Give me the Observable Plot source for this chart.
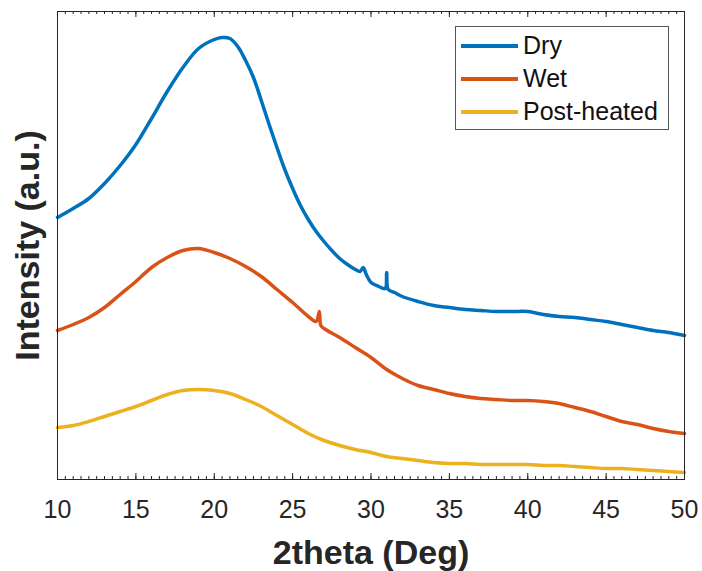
<!DOCTYPE html>
<html>
<head>
<meta charset="utf-8">
<script src="https://cdn.jsdelivr.net/npm/d3@7"></script>
<script src="https://cdn.jsdelivr.net/npm/@observablehq/plot@0.6"></script>
<style>
  html, body { margin: 0; padding: 0; background: #fff; }
  #wrap { position: relative; width: 702px; height: 571px; font-family: "Liberation Sans", Arial, sans-serif; }
  #legend { position: absolute; left: 455px; top: 26px; width: 212px; height: 100px; border: 1px solid #555; background: #fff; padding-top: 2px; box-sizing: content-box; }
  .row { display: flex; align-items: center; height: 33px; }
  .sw { width: 57px; height: 4px; margin-left: 5px; margin-right: 5px; }
  .lab { font-size: 25px; color: #111; line-height: 1; }
</style>
</head>
<body>
<div id="wrap"></div>
<script>
const seriesNames = ["Dry", "Wet", "Post-heated"];
const seriesColors = ["#0072BD", "#D95319", "#EDB120"];

const dryX = [10, 11, 12, 13, 14, 15, 16, 17, 18, 19, 20, 20.5, 21, 21.5, 22, 22.5, 23, 23.5, 24, 24.5, 25, 25.5, 26, 26.5, 27, 27.5, 28, 28.5, 29, 29.3, 29.5, 29.7, 30, 30.5, 30.9, 31, 31.1, 31.5, 32, 33, 34, 35, 36, 37, 38, 39, 40, 41, 42, 43, 44, 45, 46, 47, 48, 49, 50];
const dryY = [262, 271, 281, 296, 314, 335, 361, 388, 412, 431, 440, 442, 441, 433, 419, 402, 379, 355, 332, 310, 291, 274, 260, 248, 238, 229, 221, 215, 210, 208, 212, 205, 197, 193, 191, 207, 190, 187, 183, 178, 174, 172, 170, 169, 168, 168, 168, 165, 163, 162, 160, 158, 155, 152, 149, 147, 144];

const wetX = [10, 11, 12, 13, 14, 15, 16, 17, 18, 19, 20, 21, 22, 23, 24, 25, 26, 26.5, 26.7, 26.8, 27, 28, 29, 30, 31, 32, 33, 34, 35, 36, 37, 38, 39, 40, 41, 42, 43, 44, 45, 46, 47, 48, 49, 50];
const wetY = [149, 155, 162, 172, 185, 198, 212, 222, 229, 231, 227, 221, 213, 203, 190, 177, 163, 158, 168, 154, 151, 142, 132, 122, 110, 101, 94, 90, 86, 83, 81, 80, 79, 79, 78, 76, 72, 68, 63, 58, 55, 51, 48, 46];

const postX = [10, 11, 12, 13, 14, 15, 16, 17, 18, 19, 20, 21, 22, 23, 24, 25, 26, 27, 28, 29, 30, 31, 32, 33, 34, 35, 36, 37, 38, 39, 40, 41, 42, 43, 44, 45, 46, 47, 48, 49, 50];
const postY = [52, 54, 58, 63, 68, 73, 79, 85, 89, 90, 89, 86, 80, 73, 64, 55, 46, 39, 34, 30, 27, 23, 21, 19, 17, 16, 16, 15, 15, 15, 15, 14, 14, 13, 12, 11, 11, 10, 9, 8, 7];

const xTicks = [10, 15, 20, 25, 30, 35, 40, 45, 50];
const xMinorTicks = d3.range(10, 50.001, 0.5);
const xLabel = "2theta (Deg)";
const yLabel = "Intensity (a.u.)";

const toRows = (xs, ys, name) => xs.map((x, i) => ({x, y: ys[i], series: name}));
const rows = [
  ...toRows(dryX, dryY, "Dry"),
  ...toRows(wetX, wetY, "Wet"),
  ...toRows(postX, postY, "Post-heated")
];

const W = 702, H = 571;
const mT = 11, mB = 92, mL = 57, mR = 18;
const frameH = H - mT - mB;
const axisColor = "#262626";

const plot = Plot.plot({
  width: W,
  height: H,
  marginTop: mT,
  marginBottom: mB,
  marginLeft: mL,
  marginRight: mR,
  style: {fontFamily: "'Liberation Sans', Arial, sans-serif", fontSize: "25px", color: axisColor, background: "#fff", overflow: "visible"},
  x: {domain: [10, 50]},
  y: {domain: [0, 468]},
  color: {domain: seriesNames, range: seriesColors},
  marks: [
    Plot.line(rows, {x: "x", y: "y", z: "series", stroke: "series", strokeWidth: 3.5, curve: "catmull-rom", strokeLinejoin: "round", strokeLinecap: "round"}),
    // inward ticks, bottom and top
    Plot.tickX(xMinorTicks, {x: d => d, insetTop: frameH - 3, stroke: axisColor, strokeWidth: 1}),
    Plot.tickX(xMinorTicks, {x: d => d, insetBottom: frameH - 3, stroke: axisColor, strokeWidth: 1}),
    Plot.tickX(xTicks, {x: d => d, insetTop: frameH - 6, stroke: axisColor, strokeWidth: 1}),
    Plot.tickX(xTicks, {x: d => d, insetBottom: frameH - 6, stroke: axisColor, strokeWidth: 1}),
    Plot.frame({stroke: axisColor, strokeWidth: 1}),
    Plot.axisX({ticks: xTicks, tickSize: 0, tickPadding: 21, fontSize: 25, label: null, tickFormat: d => String(d)}),
    Plot.axisX({ticks: [], tickSize: 0, label: xLabel, labelArrow: "none", labelAnchor: "center", labelOffset: 84, fontSize: 34, fontWeight: "bold"}),
    Plot.axisY({ticks: [], tickSize: 0, label: yLabel, labelArrow: "none", labelAnchor: "center", labelOffset: 43, fontSize: 34, fontWeight: "bold"})
  ]
});

const wrap = document.getElementById("wrap");
wrap.appendChild(plot);

const legend = document.createElement("div");
legend.id = "legend";
seriesNames.forEach((name, i) => {
  const row = document.createElement("div");
  row.className = "row";
  const sw = document.createElement("div");
  sw.className = "sw";
  sw.style.background = seriesColors[i];
  const lab = document.createElement("span");
  lab.className = "lab";
  lab.textContent = name;
  row.appendChild(sw);
  row.appendChild(lab);
  legend.appendChild(row);
});
wrap.appendChild(legend);
</script>
</body>
</html>
